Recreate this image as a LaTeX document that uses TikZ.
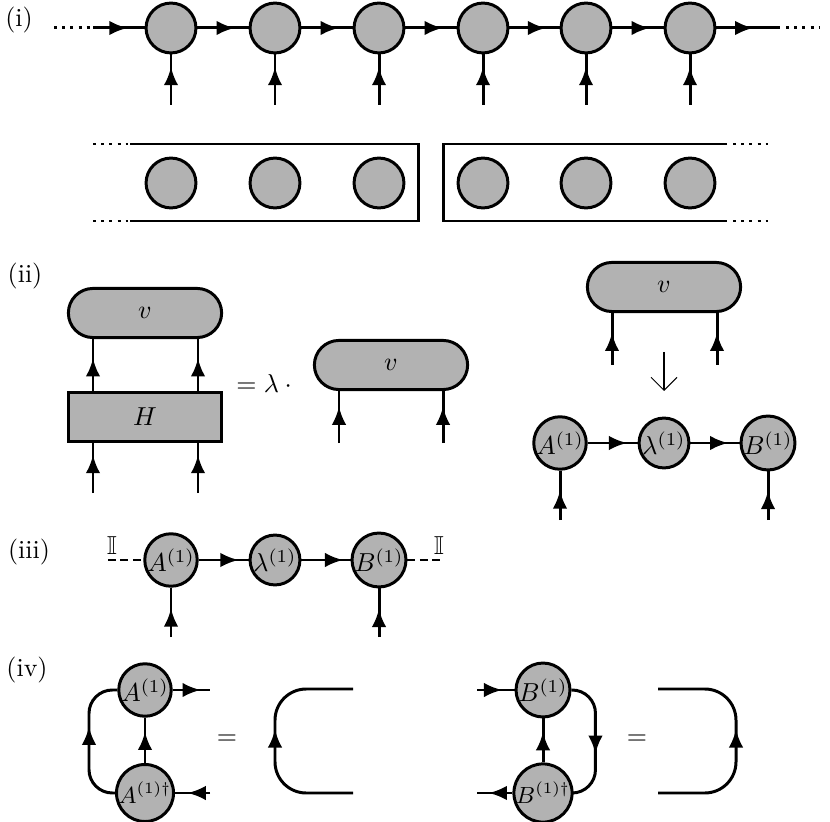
\documentclass[tikz,border=0pt]{standalone}
\usepackage{amsmath,amssymb}
\usetikzlibrary{arrows.meta,decorations.markings,shapes.misc}

\tikzset{
  site/.style={circle, draw, fill=black!30, minimum size=19.2pt, inner sep=0pt},
  blob/.style={rounded rectangle, draw, fill=black!30, minimum width=59pt, minimum height=18.9pt, inner sep=0pt},
  opbox/.style={rectangle, draw, fill=black!30, minimum width=59pt, minimum height=18.9pt, inner sep=0pt},
  arr/.style={postaction={decorate}, decoration={markings,
    mark=at position #1 with {\arrow{Latex[length=7pt,width=5.6pt]}}}},
  arr/.default=0.72,
}

\begin{document}
\begin{tikzpicture}[x=0.385pt, y=-0.385pt, line width=1.15pt]
\useasboundingbox (0,0) rectangle (830,822);

% (i) chain
\node (lbli) at (19,20) {(i)};
\foreach \i/\x in {1/171,2/275,3/379,4/483,5/586,6/690} {
  \node[site] (t\i) at (\x,28) {};
  \coordinate (f\i) at (\x,105);
  \draw[arr=0.75] (f\i) -- (t\i);
}
\foreach \i/\j in {1/2,2/3,3/4,4/5,5/6}
  \draw[arr=0.73] (t\i) -- (t\j);
\coordinate (d0) at (54,28);
\coordinate (l0) at (93,28);
\coordinate (r0) at (780,28);
\coordinate (d1) at (820,28);
\draw[dotted] (d0) -- (91,28);
\draw[arr=0.67] (l0) -- (t1);
\draw[arr=0.58] (t6) -- (r0);
\draw[dotted] (786,28) -- (d1);

% (i) boxes
\foreach \i/\x in {1/171,2/275,3/379,4/483,5/586,6/690}
  \node[site] (b\i) at (\x,183) {};
\draw[dotted] (93,144) -- (128,144);
\draw[dotted] (93,221) -- (128,221);
\draw (130,144) -- (418,144) -- (418,221) -- (130,221);
\draw (727,144) -- (443,144) -- (443,221) -- (727,221);
\draw[dotted] (733,144) -- (768,144);
\draw[dotted] (733,221) -- (768,221);

% (ii)
\node (lblii) at (25,276) {(ii)};
\node[blob] (v1) at (145,313) {$v$};
\node[opbox] (H) at (145,417) {$H$};
\coordinate (h1) at (93,493);
\coordinate (h2) at (198,493);
\foreach \c in {h1,h2} {
  \draw[arr=0.76] (\c) -- (\c |- H.south);
  \draw[arr=0.63] (\c |- H.north) -- (\c |- v1.south);
}
\node (eqv) at (267,383) {$=\lambda\cdot{}$};
\node[blob] (v2) at (391,365) {$v$};
\coordinate (g1) at (339,443);
\coordinate (g2) at (443,443);
\foreach \c in {g1,g2}
  \draw[arr=0.7] (\c) -- (\c |- v2.south);

\node[blob] (v3) at (664,287) {$v$};
\coordinate (k1) at (612,365);
\coordinate (k2) at (717,365);
\foreach \c in {k1,k2}
  \draw[arr=0.62] (\c) -- (\c |- v3.south);
\coordinate (dtop) at (664,352);
\coordinate (dbot) at (664,391);
\draw[line width=0.4pt, -{Straight Barb[length=5pt,width=10pt]}] (dtop) -- (dbot);

\node[site] (A2) at (560,443) {$A^{(1)}$};
\node[site] (L2) at (664,443) {$\lambda^{(1)}$};
\node[site] (B2) at (768,443) {$B^{(1)}$};
\draw[arr=0.79] (A2) -- (L2);
\draw[arr=0.77] (L2) -- (B2);
\coordinate (p1) at (560,520);
\coordinate (p2) at (768,520);
\draw[arr=0.6] (p1) -- (A2);
\draw[arr=0.6] (p2) -- (B2);

% (iii)
\node (lbliii) at (29,552) {(iii)};
\node[site] (A3) at (171,560) {$A^{(1)}$};
\node[site] (L3) at (275,560) {$\lambda^{(1)}$};
\node[site] (B3) at (379,560) {$B^{(1)}$};
\draw[arr=0.8] (A3) -- (L3);
\draw[arr=0.85] (L3) -- (B3);
\coordinate (q1) at (171,637);
\coordinate (q2) at (379,637);
\draw[arr=0.58] (q1) -- (A3);
\draw[arr=0.58] (q2) -- (B3);
\coordinate (e1) at (108,560);
\coordinate (e2) at (443,560);
\draw[dash pattern=on 3pt off 1.8pt] (e1) -- (A3);
\draw[dash pattern=on 3pt off 1.8pt] (B3) -- (e2);
\node (id1) at (112,546) {$\mathbb{I}$};
\node (id2) at (439,546) {$\mathbb{I}$};

% (iv)
\node (lbliv) at (27,670) {(iv)};
\node[site] (A4) at (145,690) {$A^{(1)}$};
\node[site] (Ad) at (145,793) {\small$A^{(1)\dagger}$};
\draw[arr=0.69] (Ad) -- (A4);
\draw[arr=0.6, rounded corners=9pt] (Ad.west) -- ++(-26,0) |- (A4.west);
\coordinate (ao) at (210,690);
\coordinate (ai) at (210,793);
\draw[arr=0.75] (A4) -- (ao);
\draw[arr=0.64] (ai) -- (Ad);
\node (eqa) at (227,740) {$=$};
\coordinate (ca1) at (353,689);
\coordinate (ca2) at (353,793);
\draw[arr=0.55, rounded corners=12pt] (ca2) -- ++(-78,0) |- (ca1);

\node[site] (Bu) at (543,690) {$B^{(1)}$};
\node[site] (Bd) at (543,793) {\small$B^{(1)\dagger}$};
\draw[arr=0.69] (Bd) -- (Bu);
\draw[arr=0.59, rounded corners=9pt] (Bu.east) -- ++(24,0) |- (Bd.east);
\coordinate (bi) at (477,690);
\coordinate (bo) at (477,793);
\draw[arr=0.67] (bi) -- (Bu);
\draw[arr=0.67] (Bd) -- (bo);
\node (eqb) at (637,740) {$=$};
\coordinate (cb1) at (658,793);
\coordinate (cb2) at (658,689);
\draw[arr=0.55, rounded corners=12pt] (cb1) -- ++(78,0) |- (cb2);
\end{tikzpicture}
\end{document}
